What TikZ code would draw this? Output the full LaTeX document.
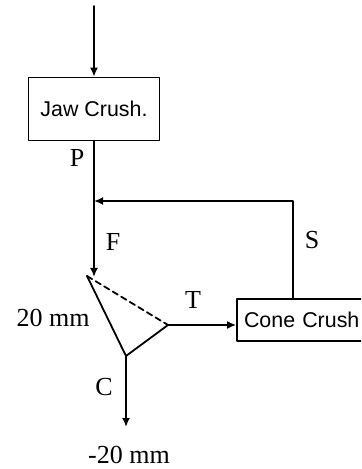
\documentclass[tikz,border=0pt]{standalone}
\usepackage{fontspec}
\setmainfont{Liberation Serif}
\setsansfont{Liberation Sans}
\usetikzlibrary{arrows.meta,calc,positioning}

\begin{document}
\begin{tikzpicture}[
    x=0.5pt,
    y=-0.5pt,
    >={Latex[length=4.5pt,width=4pt]},
    line cap=round,
    line join=round,
    flow/.style={line width=0.9pt},
    unit/.style={draw,line width=0.8pt,font=\fontsize{10.7}{12}\sffamily,inner sep=0pt},
    lbl/.style={font=\fontsize{13}{14}\selectfont}
]

% -----------------------
% Frame
% -----------------------
\useasboundingbox (0,0) rectangle (361,469);
\clip (0,0) rectangle (361,469);

% -----------------------
% Coordinates
% -----------------------
\coordinate (feed) at (94,6);
\coordinate (J)    at (94,201);
\coordinate (Ft)   at (94,277);
\coordinate (Stop) at (87,276);
\coordinate (Sright) at (168,325);
\coordinate (Sbot) at (126,356);
\coordinate (Cend) at (126,427);

% -----------------------
% Crushers
% -----------------------
\node[unit,minimum width=65.5pt,minimum height=31.5pt] (jaw) at (94,109) {Jaw Crush.};
\node[unit,minimum width=67pt,minimum height=21pt,text width=60pt] (cone) at (304,320) {Cone Crush};

% -----------------------
% Streams
% -----------------------
\draw[->,flow] (feed) -- (jaw.north);
\draw[flow] (jaw.south) -- (J);
\draw[->,flow] (J) -- (Ft);
\draw[->,flow] (cone.north -| 293,0) -- (293,201) -- (J);
\draw[->,flow] (Sright) -- (cone.west |- Sright);
\draw[->,flow] (Sbot) -- (Cend);

% -----------------------
% Screen
% -----------------------
\draw[flow] (Stop) -- (Sbot) -- (Sright);
\draw[flow,dash pattern=on 3pt off 2pt] (Stop) -- (Sright);

% -----------------------
% Labels
% -----------------------
\node[lbl] (p) at (77,158) {P};
\node[lbl] (f) at (113,242) {F};
\node[lbl] (s) at (312,240) {S};
\node[lbl] (t) at (193,300) {T};
\node[lbl] (c) at (104,387) {C};
\node[lbl] (over) at (53,318) {20 mm};
\node[lbl] (under) at (129,455) {-20 mm};

\end{tikzpicture}
\end{document}
